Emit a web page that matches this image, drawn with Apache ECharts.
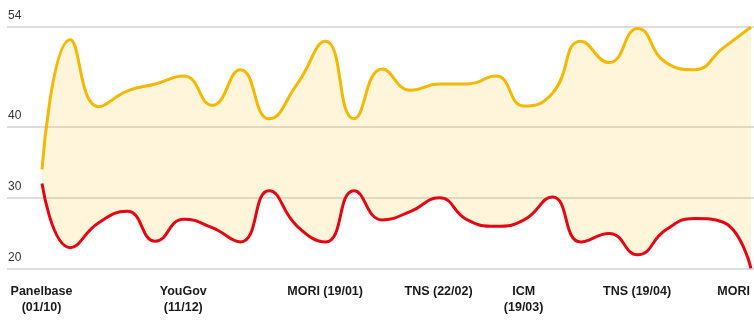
<!DOCTYPE html>
<html>
<head>
<meta charset="utf-8">
<script src="https://cdn.jsdelivr.net/npm/echarts@6/dist/echarts.min.js"></script>
<style>
html,body{margin:0;padding:0;background:#fff;}
#chart{width:754px;height:330px;}
</style>
</head>
<body>
<div id="chart"></div>
<script>
// 26 polls in order
const yellowValues = [34, 52.2, 42.8, 45, 46, 47.1, 43, 48, 41.1, 46, 52, 41.1, 48.1, 45.1, 46, 46, 47.1, 42.9, 44.7, 52, 49, 53.8, 49, 48, 51, 54];
const redValues    = [32, 23, 26.5, 28.1, 23.9, 27, 25.8, 23.8, 31, 26, 23.8, 31, 26.9, 28.1, 30, 26.9, 26, 26.9, 30.1, 23.8, 25, 22, 25.5, 27.1, 26.6, 20.1];
const labelIndices = [0, 5, 10, 14, 17, 21, 25];
const labelTexts   = ['Panelbase\n(01/10)', 'YouGov\n(11/12)', 'MORI (19/01)', 'TNS (22/02)', 'ICM\n(19/03)', 'TNS (19/04)', 'MORI'];
const yTicks = [20, 30, 40, 54];

const categories = yellowValues.map((_, i) => {
  const k = labelIndices.indexOf(i);
  return k >= 0 ? labelTexts[k] : '';
});
const bandValues = yellowValues.map((v, i) => +(v - redValues[i]).toFixed(2));

const chart = echarts.init(document.getElementById('chart'), null, {renderer: 'canvas'});
const font = '"Liberation Sans", Arial, Helvetica, sans-serif';
const SMOOTH = 0.5;
chart.setOption({
  animation: false,
  grid: [
    {left: 7, right: 0, top: 27, bottom: 61, containLabel: false},
    {left: 42, right: 0, top: 27, bottom: 61, containLabel: false}
  ],
  xAxis: [
    {gridIndex: 0, type: 'value', min: 0, max: 1, show: false},
    {
      gridIndex: 1, type: 'category', data: categories, boundaryGap: false,
      axisLine: {show: false}, axisTick: {show: false}, splitLine: {show: false},
      axisLabel: {
        interval: 0, alignMaxLabel: 'right', padding: [0, 1, 0, 0],
        fontFamily: font, fontSize: 12.5, fontWeight: 'bold', color: '#1a1a1a',
        lineHeight: 16, margin: 15
      }
    }
  ],
  yAxis: [
    {
      gridIndex: 0, type: 'value', min: 20, max: 54,
      axisLine: {show: false},
      axisTick: {show: false, customValues: yTicks},
      splitLine: {show: true, lineStyle: {color: '#dddddd', width: 2}},
      axisLabel: {
        customValues: yTicks, inside: true, margin: 1,
        verticalAlign: 'bottom', padding: [0, 0, 5, 0],
        fontFamily: font, fontSize: 12, color: '#333'
      }
    },
    {gridIndex: 1, type: 'value', min: 20, max: 54, show: false, splitLine: {show: false}}
  ],
  series: [
    {
      type: 'line', name: 'red', xAxisIndex: 1, yAxisIndex: 1,
      data: redValues, stack: 'band', smooth: SMOOTH,
      showSymbol: false, z: 3,
      lineStyle: {color: '#e30613', width: 3}
    },
    {
      type: 'line', name: 'yellow', xAxisIndex: 1, yAxisIndex: 1,
      data: bandValues, stack: 'band', smooth: SMOOTH,
      showSymbol: false, z: 2,
      lineStyle: {color: '#f4b800', width: 3},
      areaStyle: {color: 'rgba(247,190,20,0.22)'}
    }
  ]
});
</script>
</body>
</html>
